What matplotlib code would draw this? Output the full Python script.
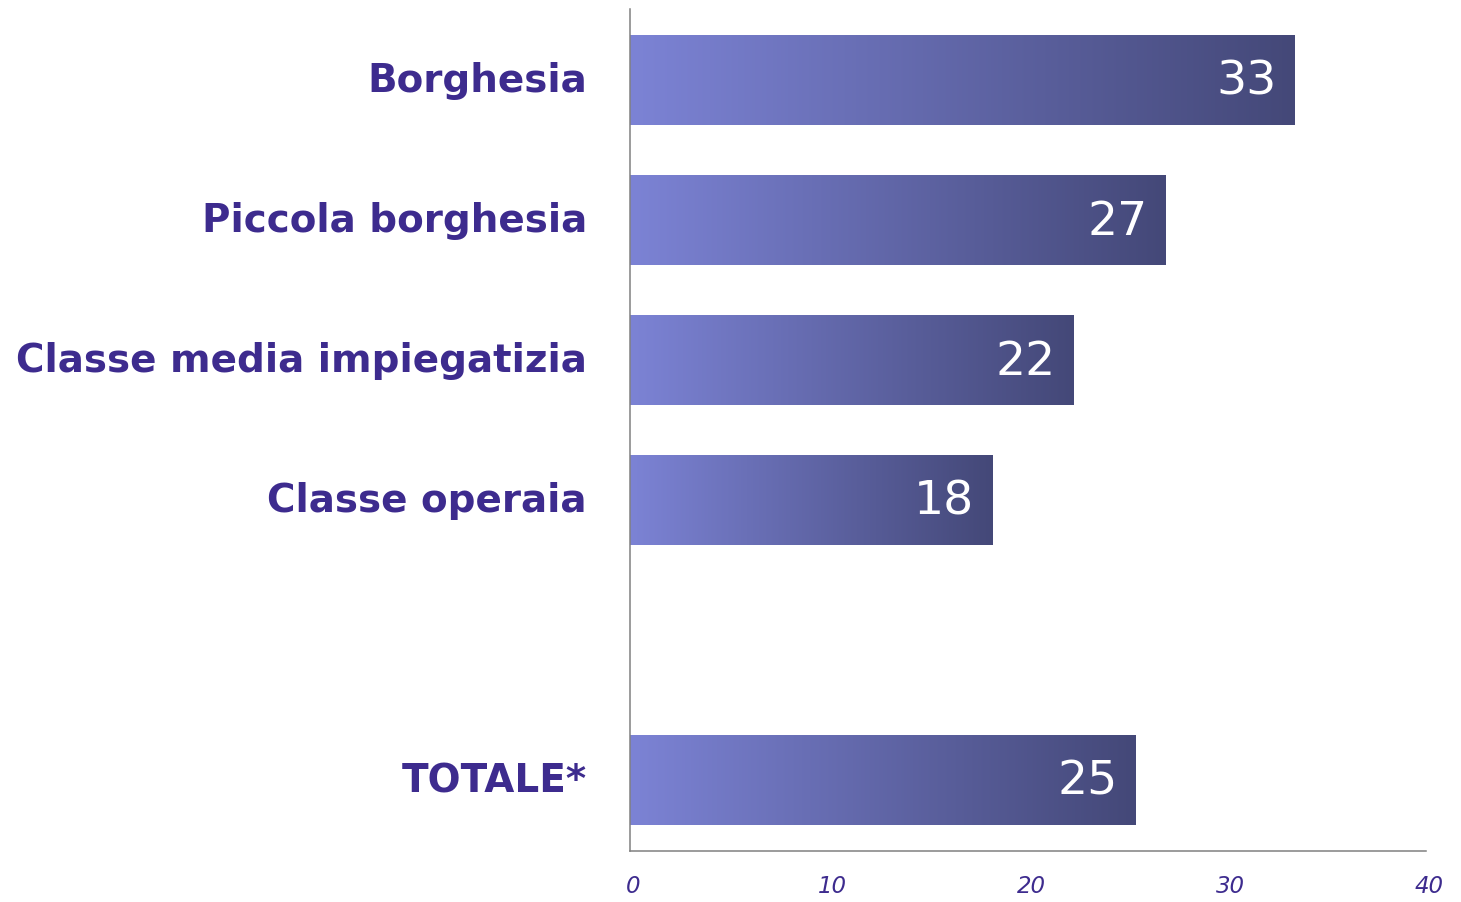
import numpy as np
import matplotlib
matplotlib.use('Agg')
import matplotlib.pyplot as plt
from matplotlib.colors import LinearSegmentedColormap
from matplotlib.transforms import ScaledTranslation

# data
categories = ['Borghesia', 'Piccola borghesia', 'Classe media impiegatizia', 'Classe operaia', 'TOTALE*']
values = [33.4, 26.9, 22.3, 18.2, 25.4]
shown = ['33', '27', '22', '18', '25']
ypos = [0, 1, 2, 3, 5]
xticks = [0, 10, 20, 30, 40]

label_col = '#3d2b8e'
grad = LinearSegmentedColormap.from_list('bar', ['#7c83d5', '#444878'])

fig = plt.figure(figsize=(14.61, 9.02), dpi=100)
ax = fig.add_axes([630/1461, 1-851/902, (1426-630)/1461, (851-9)/902])

h = 0.636
g = np.linspace(0, 1, 256).reshape(1, -1)
for y, v, s in zip(ypos, values, shown):
    ax.imshow(g, cmap=grad, aspect='auto', extent=[0, v, y+h/2, y-h/2], zorder=2)
    ax.annotate(s, xy=(v, y), xytext=(-13, -1.5), textcoords='offset points',
                ha='right', va='center', color='white', fontsize=34, zorder=3)

ax.set_xlim(0, 40)
ax.set_ylim(5.507, -0.507)
ax.set_yticks(ypos)
ax.set_yticklabels(categories, fontsize=28, color=label_col, weight='bold')
ax.set_xticks(xticks)
ax.set_xticklabels([str(t) for t in xticks], fontsize=16.5, color=label_col, style='italic')
ax.tick_params(axis='both', length=0)
ax.tick_params(axis='y', pad=31)
ax.tick_params(axis='x', pad=17)
# small nudges so labels sit where the original has them
for t in ax.get_yticklabels():
    t.set_transform(t.get_transform() + ScaledTranslation(0, 3/100, fig.dpi_scale_trans))
for t in ax.get_xticklabels():
    t.set_transform(t.get_transform() + ScaledTranslation(3/100, 0, fig.dpi_scale_trans))
for sp in ['top', 'right']:
    ax.spines[sp].set_visible(False)
for sp in ['left', 'bottom']:
    ax.spines[sp].set_color('#808080')
    ax.spines[sp].set_linewidth(1.1)

fig.savefig('out.png', dpi=100)
